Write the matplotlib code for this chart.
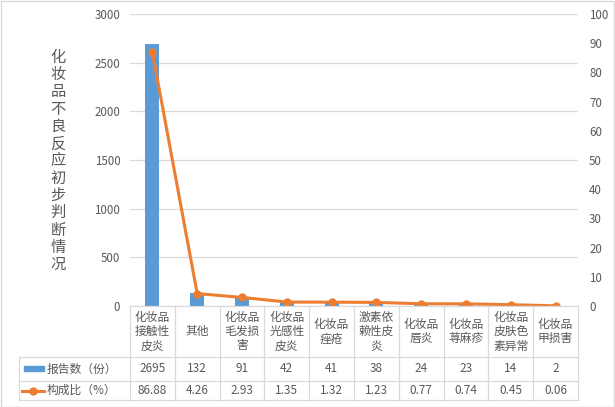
import matplotlib
matplotlib.use("Agg")
import matplotlib.pyplot as plt
import matplotlib.transforms as mtransforms
from matplotlib.lines import Line2D
from matplotlib.patches import Rectangle

plt.rcParams['font.family'] = ['Noto Sans CJK SC', 'DejaVu Sans']

# datos
categorias = ["化妆品\n接触性\n皮炎", "其他", "化妆品\n毛发损\n害", "化妆品\n光感性\n皮炎",
              "化妆品\n痤疮", "激素依\n赖性皮\n炎", "化妆品\n唇炎", "化妆品\n荨麻疹",
              "化妆品\n皮肤色\n素异常", "化妆品\n甲损害"]
reportes = [2695, 132, 91, 42, 41, 38, 24, 23, 14, 2]
porcentaje = [86.88, 4.26, 2.93, 1.35, 1.32, 1.23, 0.77, 0.74, 0.45, 0.06]
porcentaje_txt = ["86.88", "4.26", "2.93", "1.35", "1.32", "1.23", "0.77", "0.74", "0.45", "0.06"]
serie_barras = "报告数（份）"
serie_linea = "构成比（%）"
titulo_y = "化妆品不良反应初步判断情况"

azul = "#5B9BD5"
naranja = "#ED7D31"
gris_texto = "#595959"
gris_linea = "#D9D9D9"

W, H = 615, 407
fig = plt.figure(figsize=(W / 100, H / 100), dpi=100)

# area del grafico (pixeles -> fraccion)
x0, x1, y_top, y_bot = 130, 578, 14, 306
ax = fig.add_axes([x0 / W, 1 - y_bot / H, (x1 - x0) / W, (y_bot - y_top) / H])
ax2 = ax.twinx()

pos = list(range(len(categorias)))
ax.bar(pos, reportes, width=0.31, color=azul, zorder=2)
ax.set_xlim(-0.5, len(categorias) - 0.5)
ax.set_ylim(0, 3000)
ax.set_yticks(range(0, 3001, 500))
ax.yaxis.grid(True, color=gris_linea, linewidth=0.9)
ax.set_axisbelow(True)
ax.set_xticks([])

ax2.plot(pos, porcentaje, color=naranja, linewidth=2.2, marker="o", markersize=5, zorder=3)
ax2.set_ylim(0, 100)
ax2.set_yticks(range(0, 101, 10))

for a in (ax, ax2):
    for s in a.spines.values():
        s.set_visible(False)
    a.tick_params(length=0, labelsize=8.3, labelcolor=gris_texto)
ax.tick_params(axis="y", pad=7)
ax2.tick_params(axis="y", pad=8)

# titulo vertical
fig.text(58 / W, 1 - 161 / H, "\n".join(titulo_y), ha="center", va="center",
         fontsize=11, color=gris_texto, linespacing=1.02)

# tabla de datos
tr = mtransforms.blended_transform_factory(ax.transData, fig.transFigure)
fy = lambda py: 1 - py / H
r0, r1, r2, r3 = 306, 357, 381, 400
xl = 19 / W
xa = x0 / W

lines = [
    ((xa, xa), (fy(r0), fy(r3))),
    ((xl, x1 / W), (fy(r1), fy(r1))),
    ((xl, x1 / W), (fy(r2), fy(r2))),
    ((xl, x1 / W), (fy(r3), fy(r3))),
    ((xl, xl), (fy(r1), fy(r3))),
    ((xa, x1 / W), (fy(r0), fy(r0))),
]
for xs, ys in lines:
    fig.add_artist(Line2D(xs, ys, color=gris_linea, linewidth=0.9))
for i in range(1, len(categorias) + 1):
    xf = ax.transData.transform((i - 0.5, 0))[0] / W
    fig.add_artist(Line2D((xf, xf), (fy(r0), fy(r3)), color=gris_linea, linewidth=0.9))

for i, cat in enumerate(categorias):
    ax.text(i, fy((r0 + r1) / 2), cat, transform=tr, ha="center", va="center",
            fontsize=8.5, color=gris_texto, linespacing=1.15, clip_on=False)
    ax.text(i, fy((r1 + r2) / 2), str(reportes[i]), transform=tr, ha="center", va="center",
            fontsize=8.5, color=gris_texto, clip_on=False)
    ax.text(i, fy((r2 + r3) / 2), porcentaje_txt[i], transform=tr, ha="center", va="center",
            fontsize=8.5, color=gris_texto, clip_on=False)

# leyenda dentro de la tabla
fig.add_artist(Rectangle((24 / W, fy(371)), 20 / W, 5 / H, color=azul))
fig.text(47 / W, fy((r1 + r2) / 2), serie_barras, ha="left", va="center",
         fontsize=8.5, color=gris_texto)
fig.add_artist(Line2D((22 / W, 44 / W), (fy(390.5), fy(390.5)), color=naranja, linewidth=2.2))
fig.add_artist(Line2D((33 / W,), (fy(390.5),), color=naranja, marker="o", markersize=5))
fig.text(47 / W, fy((r2 + r3) / 2), serie_linea, ha="left", va="center",
         fontsize=8.5, color=gris_texto)

# borde del area
fig.add_artist(Rectangle((0.5 / W, 0.5 / H), (W - 1.5) / W, (H - 1.5) / H,
                         fill=False, edgecolor=gris_linea, linewidth=1))

fig.savefig("out.png", dpi=100)
